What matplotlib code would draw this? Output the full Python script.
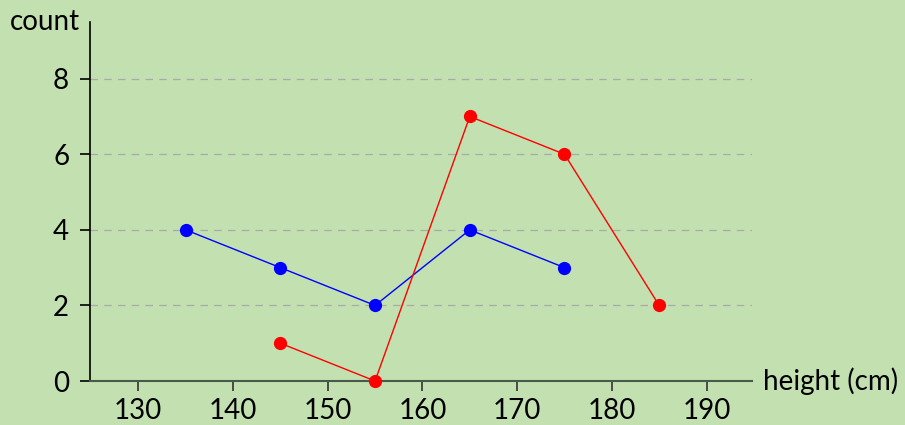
import matplotlib.pyplot as plt

# heights (bin centres) and counts for the two groups
heights_blue = [135, 145, 155, 165, 175]
counts_blue = [4, 3, 2, 4, 3]
heights_red = [145, 155, 165, 175, 185]
counts_red = [1, 0, 7, 6, 2]
x_ticks = [130, 140, 150, 160, 170, 180, 190]
y_ticks = [0, 2, 4, 6, 8]

bg = "#c3e0b0"
plt.rcParams["font.family"] = ["Lato", "DejaVu Sans"]

fig = plt.figure(figsize=(9.05, 4.25), dpi=100, facecolor=bg)
ax = fig.add_axes([90 / 905, 1 - 381 / 425, (752 - 90) / 905, (381 - 22) / 425])
ax.set_facecolor(bg)

ax.plot(heights_blue, counts_blue, color="blue", lw=1, marker="o", ms=8.5, clip_on=False, zorder=3)
ax.plot(heights_red, counts_red, color="red", lw=1, marker="o", ms=8.5, clip_on=False, zorder=4)

ax.set_xlim(124.9, 194.8)
ax.set_ylim(0, 9.5)
ax.set_xticks(x_ticks)
ax.set_yticks(y_ticks)

for y in y_ticks[1:]:
    ax.axhline(y, color="#aaaaaa", lw=0.9, ls=(0, (6, 5)), zorder=1)

for s in ["top", "right"]:
    ax.spines[s].set_visible(False)
ax.spines["left"].set_color("black")
ax.spines["left"].set_linewidth(1.2)
ax.spines["bottom"].set_color("#4a5a4a")
ax.spines["bottom"].set_linewidth(1.5)
ax.tick_params(axis="x", direction="out", length=7, width=1.2, color="#333333", labelsize=20, pad=5)
ax.tick_params(axis="y", direction="out", length=7, width=1.2, color="black", labelsize=20, pad=8)

fig.text(10 / 905, 1 - 22 / 425, "count", fontsize=20, va="center", ha="left")
fig.text(763 / 905, 1 - 381 / 425, "height (cm)", fontsize=20, va="center", ha="left")

fig.savefig("out.png", dpi=100, facecolor=bg)
